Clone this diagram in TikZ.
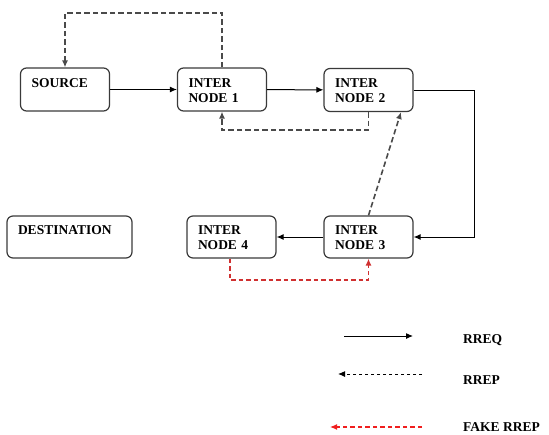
\documentclass[tikz,border=0pt]{standalone}
\usepackage{fontspec}
\setmainfont{Liberation Serif}
\newfontfamily\labelfont{Liberation Serif}
\usetikzlibrary{arrows.meta}
\definecolor{boxline}{HTML}{3A3A3A}
\definecolor{replygray}{HTML}{4A4A4A}
\definecolor{fakered}{HTML}{D03030}
\definecolor{legendred}{HTML}{F01E1E}
\tikzset{
  netnode/.style={draw=boxline, line width=1.2pt, rounded corners=6pt,
    minimum width=89pt, text width=67pt, align=left,
    inner xsep=11pt, inner ysep=0pt, text height=19pt, text depth=24pt,
    font=\labelfont\fontsize{13.5}{15}\selectfont\bfseries},
  tip/.style={-{Latex[length=7pt,width=6pt]}},
  rreq/.style={tip, line width=1pt, draw=black},
  rrep/.style={tip, line width=1.6pt, draw=replygray, dash pattern=on 5.5pt off 3pt},
  fake/.style={tip, line width=1.6pt, draw=fakered, dash pattern=on 4.5pt off 3pt},
  legendtext/.style={anchor=base west, inner sep=0pt, font=\labelfont\fontsize{13.5}{15}\selectfont\bfseries}
}
\begin{document}
\begin{tikzpicture}[x=1pt,y=-1pt]
\useasboundingbox (0,0) rectangle (549,434);

% nodes of the route discovery
\node[netnode] (src) at (65,89.5) {SOURCE};
\node[netnode] (n1) at (222,89.5) {INTER\\NODE 1};
\node[netnode] (n2) at (368.5,90) {INTER\\NODE 2};
\node[netnode, text height=18pt, text depth=24pt] (n3) at (368.5,237) {INTER\\NODE 3};
\node[netnode, text height=18pt, text depth=24pt] (n4) at (231.5,237) {INTER\\NODE 4};
\node[netnode, minimum width=125pt, text width=103pt, text height=18pt, text depth=24pt] (dst) at (69.5,237) {DESTINATION};

% route requests
\draw[rreq] (src) -- (n1);
\draw[rreq] (n1) -- (n2);
\draw[rreq] (n2.east) -- ++(61,0) |- (n3.east);
\draw[rreq] (n3) -- (n4);

% route replies
\draw[rrep] (n1.north) -- ++(0,-54.5) -| (src.north);
\draw[rrep] (n2.south) -- ++(0,18) -| (n1.south);
\draw[rrep] (n3.north) -- ([xshift=32.5pt]n2.south);

% forged reply
\draw[fake] ([xshift=-1.5pt]n4.south) -- ++(0,21.5) -| (n3.south);

% legend
\coordinate (q1) at (344,336);
\coordinate (q2) at (413,336);
\coordinate (p1) at (422,374);
\coordinate (p2) at (338,374);
\coordinate (f1) at (422,427);
\coordinate (f2) at (330,427);
\draw[rreq] (q1) -- (q2);
\draw[tip, line width=1pt, draw=black, dash pattern=on 3.5pt off 2.5pt] (p1) -- (p2);
\draw[tip, line width=1.2pt, draw=legendred, dash pattern=on 4.5pt off 3pt] (f1) -- (f2);
\node[legendtext] (lq) at (463,343) {RREQ};
\node[legendtext] (lp) at (463,384) {RREP};
\node[legendtext] (lf) at (463,431) {FAKE RREP};
\end{tikzpicture}
\end{document}
